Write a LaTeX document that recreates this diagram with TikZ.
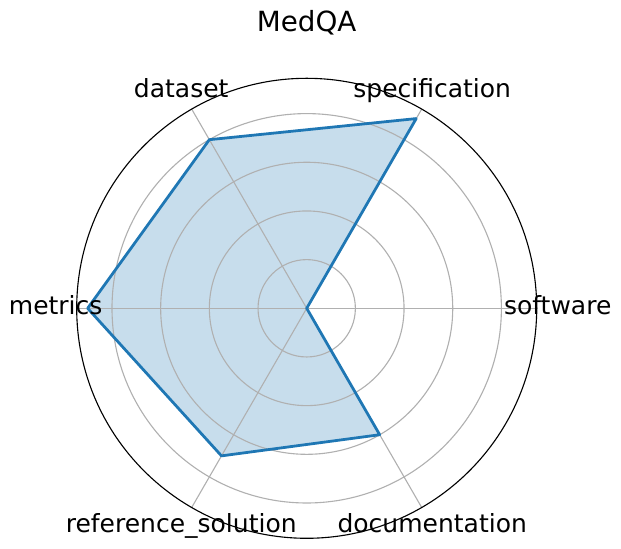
\documentclass[tikz,border=0pt]{standalone}
\usepackage{fontspec}
\setmainfont{DejaVu Sans}
\definecolor{gridgray}{HTML}{B0B0B0}
\definecolor{mplblue}{HTML}{1F77B4}

\begin{document}
\begin{tikzpicture}[x=0.72pt,y=0.72pt,
  gridline/.style={draw=gridgray,line width=0.8pt},
  axislabel/.style={font=\fontsize{18}{21}\selectfont,inner sep=0pt,
    text height=13.7pt,text depth=4.2pt}]
\useasboundingbox (-306.7,-240.7) rectangle (314.3,308.3);
% filled area
\fill[mplblue,fill opacity=0.25] (0:0) -- (60:219.05) -- (120:194.7) -- (180:219.05)
  -- (240:170.4) -- (300:146.0) -- cycle;
% grid
\foreach \r in {48.68,97.35,146.03,194.7} \draw[gridline] (0,0) circle (\r);
\foreach \a in {0,60,...,300} \draw[gridline] (0,0) -- (\a:230);
% data line
\draw[mplblue,line width=2pt,line join=round] (0:0) -- (60:219.05) -- (120:194.7)
  -- (180:219.05) -- (240:170.4) -- (300:146.0) -- cycle;
\draw[line width=0.8pt] (0,0) circle (230);
% labels
\node[axislabel] (software) at (0:251) {software};
\node[axislabel] (specification) at (60:251) {specification};
\node[axislabel] (dataset) at (120:251) {dataset};
\node[axislabel] (metrics) at (180:251) {metrics};
\node[axislabel] (refsol) at (240:251) {reference\_solution};
\node[axislabel] (documentation) at (300:251) {documentation};
\node[font=\fontsize{20}{24}\selectfont,inner sep=0pt] (title) at (0,286) {MedQA};
\end{tikzpicture}
\end{document}
